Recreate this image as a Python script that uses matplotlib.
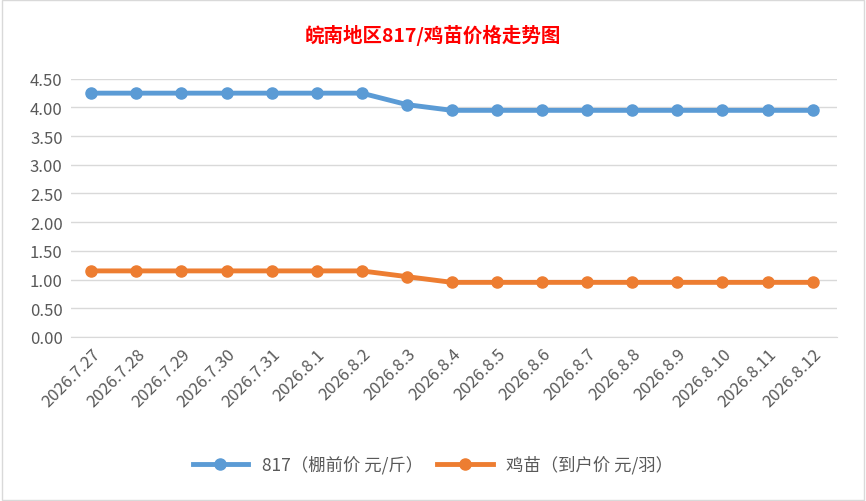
import matplotlib
matplotlib.use("Agg")
import matplotlib.pyplot as plt
from matplotlib.patches import Rectangle

plt.rcParams['font.family'] = ['Noto Sans CJK SC', 'DejaVu Sans']

dates = ["2026.7.27","2026.7.28","2026.7.29","2026.7.30","2026.7.31","2026.8.1","2026.8.2",
         "2026.8.3","2026.8.4","2026.8.5","2026.8.6","2026.8.7","2026.8.8","2026.8.9",
         "2026.8.10","2026.8.11","2026.8.12"]
p817 = [4.25]*7 + [4.05] + [3.95]*9
chick = [1.15]*7 + [1.05] + [0.95]*9
yticks = [0, 0.5, 1, 1.5, 2, 2.5, 3, 3.5, 4, 4.5]

fig = plt.figure(figsize=(8.66, 5.02), dpi=100)
fig.patches.append(Rectangle((0.002, 0.002), 0.996, 0.996, transform=fig.transFigure,
                             fill=False, edgecolor='#d9d9d9', lw=1))
ax = fig.add_axes([0.082, 0.327, 0.885, 0.514])
x = range(len(dates))
ax.plot(x, p817, color='#5b9bd5', lw=3.5, marker='o', ms=8, label='817（棚前价 元/斤）')
ax.plot(x, chick, color='#ed7d31', lw=3.5, marker='o', ms=8, label='鸡苗（到户价 元/羽）')
ax.set_ylim(0, 4.5)
ax.set_xlim(-0.45, len(dates)-0.45)
ax.set_yticks(yticks)
ax.set_yticklabels([f"{v:.2f}" for v in yticks], fontsize=12, color='#595959')
ax.set_xticks(list(x))
ax.set_xticklabels(dates, rotation=45, ha='right', rotation_mode='anchor', fontsize=12, color='#595959')
ax.grid(axis='y', color='#d9d9d9', lw=1)
ax.set_axisbelow(True)
for s in ['top', 'right', 'left']:
    ax.spines[s].set_visible(False)
ax.spines['bottom'].set_color('#d9d9d9')
ax.tick_params(length=0, pad=6)
fig.text(0.5, 0.93, '皖南地区817/鸡苗价格走势图', ha='center', va='center',
         color='#ff0000', fontsize=14, fontweight='bold')
fig.legend(loc='center', bbox_to_anchor=(0.5, 0.073), ncol=2, frameon=False,
           fontsize=12.5, labelcolor='#595959', handlelength=3.2, columnspacing=0.8)
fig.savefig('out.png')
